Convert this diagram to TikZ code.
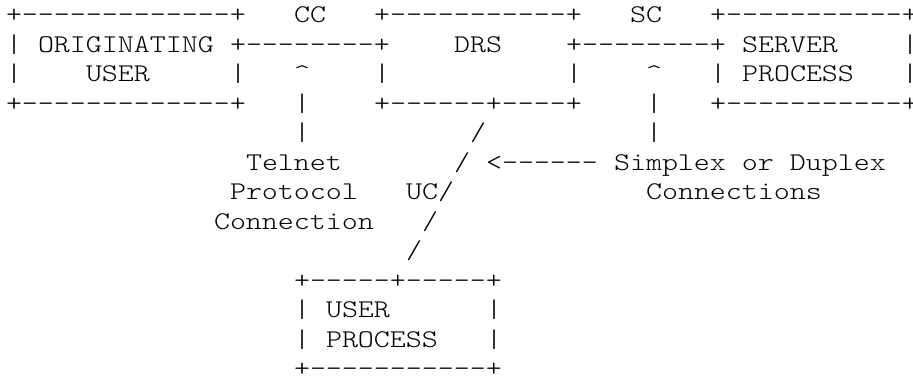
\documentclass[tikz,border=0pt]{standalone}
\usepackage{graphicx}
\newcommand\Dsh[1]{\count255=0 \loop\ifnum\count255<#1 \mbox{-}\advance\count255 by 1 \repeat}
\tikzset{asc/.style={anchor=base west, inner sep=0pt, outer sep=0pt,
  font=\fontfamily{lmtt}\fontseries{l}\fontshape{n}\fontsize{25.5}{29.5}\selectfont}}
\newcommand\At[4]{\node[asc] (#4) at ({6+16*#1},{-(22.5+29.5*#2)}) {\scalebox{1.195}[1]{#3}};}
\begin{document}
\begin{tikzpicture}[x=1pt,y=1pt]
\fill[white] (0,0) rectangle (913,-376);
\useasboundingbox (0,0) rectangle (913,-376);
% row 0
\At{0}{0}{+\Dsh{13}+}{outop}
\At{18}{0}{CC}{cc}
\At{23}{0}{+\Dsh{11}+}{drstop}
\At{39}{0}{SC}{sc}
\At{44}{0}{+\Dsh{11}+}{sptop}
% row 1
\At{0}{1}{\textbar}{oul1}
\At{2}{1}{ORIGINATING}{orig}
\At{14}{1}{+\Dsh{8}+}{ccline}
\At{28}{1}{DRS}{drs}
\At{35}{1}{+\Dsh{8}+}{scline}
\At{46}{1}{SERVER}{server}
\At{56}{1}{\textbar}{spr1}
% row 2
\At{0}{2}{\textbar}{oul2}
\At{5}{2}{USER}{ouser}
\At{14}{2}{\textbar}{our2}
\At{18}{2}{\textasciicircum}{ccarrow}
\At{23}{2}{\textbar}{drsl2}
\At{35}{2}{\textbar}{drsr2}
\At{40}{2}{\textasciicircum}{scarrow}
\At{44}{2}{\textbar}{spl2}
\At{46}{2}{PROCESS}{sproc}
\At{56}{2}{\textbar}{spr2}
% row 3
\At{0}{3}{+\Dsh{13}+}{oubot}
\At{18}{3}{\textbar}{ccv3}
\At{23}{3}{+\Dsh{6}+\Dsh{4}+}{drsbot}
\At{40}{3}{\textbar}{scv3}
\At{44}{3}{+\Dsh{11}+}{spbot}
% row 4
\At{18}{4}{\textbar}{ccv4}
\At{29}{4}{/}{uc4}
\At{40}{4}{\textbar}{scv4}
% row 5
\At{15}{5}{Telnet}{telnet}
\At{28}{5}{/}{uc5}
\At{30}{5}{<\Dsh{6}}{arrow}
\At{38}{5}{Simplex or Duplex}{simplex}
% row 6
\At{14}{6}{Protocol}{protocol}
\At{25}{6}{UC/}{uc6}
\At{40}{6}{Connections}{connections}
% row 7
\At{13}{7}{Connection}{connection}
\At{26}{7}{/}{uc7}
% row 8
\At{25}{8}{/}{uc8}
% row 9
\At{18}{9}{+\Dsh{5}+\Dsh{5}+}{uptop}
% row 10
\At{18}{10}{\textbar}{upl10}
\At{20}{10}{USER}{upuser}
\At{30}{10}{\textbar}{upr10}
% row 11
\At{18}{11}{\textbar}{upl11}
\At{20}{11}{PROCESS}{upproc}
\At{30}{11}{\textbar}{upr11}
% row 12
\At{18}{12}{+\Dsh{11}+}{upbot}
\end{tikzpicture}
\end{document}
